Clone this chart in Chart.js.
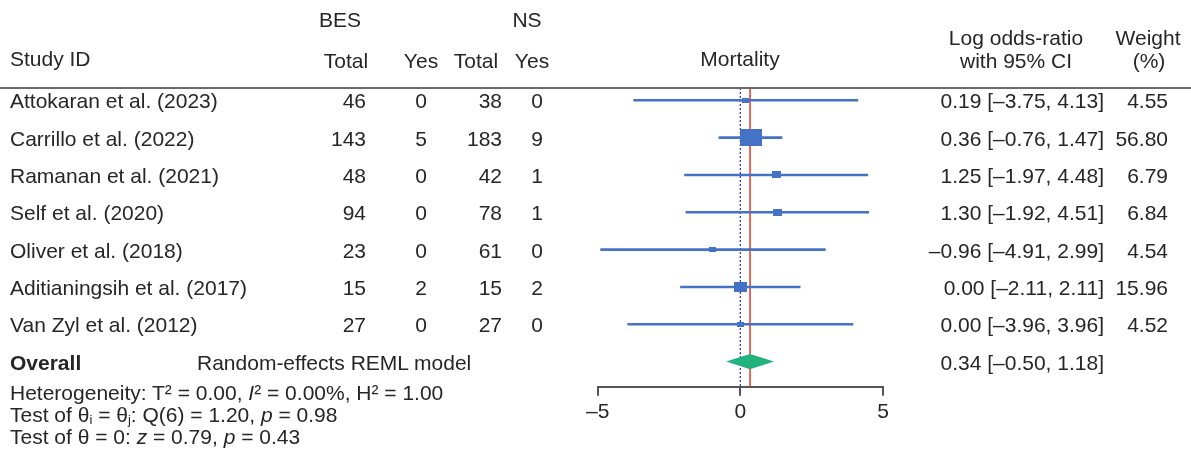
<!DOCTYPE html>
<html><head><meta charset="utf-8">
<script src="https://cdn.jsdelivr.net/npm/chart.js@4.4.1/dist/chart.umd.min.js"></script>
<style>
html,body{margin:0;padding:0;background:#fff;}
#wrap{position:relative;width:1191px;height:455px;overflow:hidden;font-family:"Liberation Sans",Arial,sans-serif;color:#262626;}
#c{position:absolute;left:0;top:0;}
.t{position:absolute;white-space:nowrap;font-size:21px;line-height:1;}
.l{transform:translate(0,-50%);} .r{transform:translate(-100%,-50%);} .c{transform:translate(-50%,-50%);}
sub{font-size:0.62em;vertical-align:-0.2em;line-height:0;}
#rule{position:absolute;left:0;top:87px;width:1191px;height:2px;background:#6a6a6a;}
</style></head>
<body><div id="wrap"><canvas id="c" width="1191" height="455"></canvas><div id="rule"></div></div>
<script>
// ---------- data ----------
const studies = ["Attokaran et al. (2023)","Carrillo et al. (2022)","Ramanan et al. (2021)","Self et al. (2020)","Oliver et al. (2018)","Aditianingsih et al. (2017)","Van Zyl et al. (2012)"];
const besTotal = [46,143,48,94,23,15,27];
const besYes   = [0,5,0,0,0,2,0];
const nsTotal  = [38,183,42,78,61,15,27];
const nsYes    = [0,9,1,1,0,2,0];
const logOR    = [0.19,0.36,1.25,1.30,-0.96,0.00,0.00];
const ciLow    = [-3.75,-0.76,-1.97,-1.92,-4.91,-2.11,-3.96];
const ciHigh   = [4.13,1.47,4.48,4.51,2.99,2.11,3.96];
const weight   = [4.55,56.80,6.79,6.84,4.54,15.96,4.52];
const overallEst = 0.34, overallLow = -0.50, overallHigh = 1.18;
const xTicks = [-5,0,5];

// ---------- style ----------
const BLUE = "#4472C4", RED = "#E8432E", GREEN = "#22B27D", NAVY = "#3a3ab0", AXIS = "#555";
const overallRow = studies.length;
const yMin = -0.33, yMax = 7.672;

const fmt = v => (v < 0 ? "\u2013" : "") + Math.abs(v).toFixed(2);

function markerCanvas(w){
  const W = Math.max(2, Math.round(1.6 + 2.75*Math.sqrt(w)));
  const H = Math.max(2, Math.round(W*0.76));
  const cv = document.createElement('canvas'); cv.width = W; cv.height = H;
  const g = cv.getContext('2d'); g.fillStyle = BLUE; g.fillRect(0,0,W,H);
  return cv;
}
const markerImgs = weight.map(markerCanvas);

const datasets = [];
// reference lines
datasets.push({type:'line', data:[{x:0,y:yMin},{x:0,y:yMax}], borderColor:NAVY, borderWidth:1.3, borderDash:[2,2], pointRadius:0, order:5});
datasets.push({type:'line', data:[{x:overallEst,y:yMin},{x:overallEst,y:yMax}], borderColor:RED, borderWidth:1.6, pointRadius:0, order:4});
// CI lines
studies.forEach((s,i)=>{
  datasets.push({type:'line', data:[{x:ciLow[i],y:i},{x:ciHigh[i],y:i}], borderColor:BLUE, borderWidth:2.6, pointRadius:0, order:3});
});
// markers
datasets.push({type:'scatter', data:logOR.map((v,i)=>({x:v,y:i})), pointStyle:ctx=>markerImgs[ctx.dataIndex], pointRadius:3, order:1});

const diamondPlugin = {
  id:'diamond',
  afterDatasetsDraw(chart){
    const xs = chart.scales.x, ys = chart.scales.y, ctx = chart.ctx;
    const yc = ys.getPixelForValue(overallRow);
    const hh = Math.abs(ys.getPixelForValue(overallRow+0.205) - yc);
    ctx.save();
    ctx.beginPath();
    ctx.moveTo(xs.getPixelForValue(overallLow), yc);
    ctx.lineTo(xs.getPixelForValue(overallEst), yc-hh);
    ctx.lineTo(xs.getPixelForValue(overallHigh), yc);
    ctx.lineTo(xs.getPixelForValue(overallEst), yc+hh);
    ctx.closePath();
    ctx.fillStyle = GREEN; ctx.fill();
    ctx.restore();
  }
};

const chart = new Chart(document.getElementById('c'), {
  data:{datasets},
  options:{
    responsive:false, animation:false, devicePixelRatio:1,
    events:[],
    layout:{padding:{left:597.7, right:308, top:88, bottom:18.3}},
    plugins:{legend:{display:false}, tooltip:{enabled:false}},
    scales:{
      x:{type:'linear', position:'bottom', min:-5, max:5,
         afterBuildTicks: s => { s.ticks = xTicks.map(v=>({value:v})); },
         afterFit: s => { s.height = 50; },
         ticks:{font:{family:"'Liberation Sans', Arial, sans-serif", size:21}, color:'#262626', padding:4,
                callback:v => (v<0?"\u2013":"")+Math.abs(v)},
         grid:{drawOnChartArea:false, drawTicks:true, tickLength:9, color:AXIS, lineWidth:2},
         border:{display:true, color:AXIS, width:2}},
      y:{type:'linear', display:false, min:yMin, max:yMax, reverse:true}
    }
  },
  plugins:[diamondPlugin]
});

// ---------- text ----------
const wrap = document.getElementById('wrap');
function addText(html, x, y, cls){
  const d = document.createElement('div');
  d.className = 't ' + cls;
  d.style.left = x + 'px'; d.style.top = y + 'px';
  d.innerHTML = html; wrap.appendChild(d); return d;
}
const COL = {name:10, besTot:366, besYes:421, nsTot:502, nsYes:537, mort:740, lor:1104, wt:1168};
addText("BES", 340, 19, 'c');
addText("NS", 527, 19, 'c');
addText("Study ID", COL.name, 58, 'l');
addText("Total", 346, 60, 'c');
addText("Yes", 421, 60, 'c');
addText("Total", 476, 60, 'c');
addText("Yes", 532, 60, 'c');
addText("Mortality", COL.mort, 58, 'c');
addText("Log odds-ratio", 1016, 37, 'c');
addText("with 95% CI", 1016, 60, 'c');
addText("Weight", 1148, 37, 'c');
addText("(%)", 1149, 60, 'c');

const ys = chart.scales.y;
studies.forEach((s,i)=>{
  const y = ys.getPixelForValue(i);
  addText(s, COL.name, y, 'l');
  addText(String(besTotal[i]), COL.besTot, y, 'r');
  addText(String(besYes[i]), COL.besYes, y, 'c');
  addText(String(nsTotal[i]), COL.nsTot, y, 'r');
  addText(String(nsYes[i]), COL.nsYes, y, 'c');
  addText(fmt(logOR[i]) + " [" + fmt(ciLow[i]) + ", " + fmt(ciHigh[i]) + "]", COL.lor, y, 'r');
  addText(weight[i].toFixed(2), COL.wt, y, 'r');
});
const yo = ys.getPixelForValue(overallRow);
addText("<b>Overall</b>", COL.name, yo, 'l');
addText("Random-effects REML model", 197, yo, 'l');
addText(fmt(overallEst) + " [" + fmt(overallLow) + ", " + fmt(overallHigh) + "]", COL.lor, yo, 'r');
addText("Heterogeneity: T\u00B2 = 0.00, <i>I</i>\u00B2 = 0.00%, H\u00B2 = 1.00", COL.name, 392, 'l');
addText("Test of \u03B8<sub>i</sub> = \u03B8<sub>j</sub>: Q(6) = 1.20, <i>p</i> = 0.98", COL.name, 414, 'l');
addText("Test of \u03B8 = 0: <i>z</i> = 0.79, <i>p</i> = 0.43", COL.name, 436, 'l');
</script>
</body></html>
